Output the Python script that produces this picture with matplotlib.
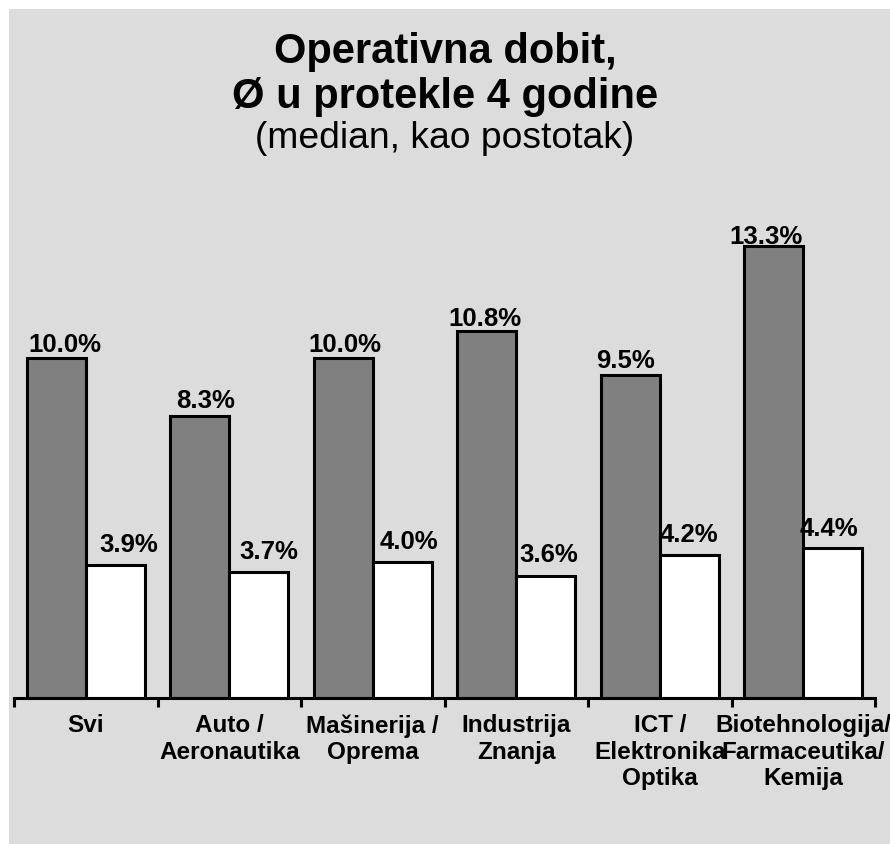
import matplotlib
matplotlib.use('Agg')
import matplotlib.pyplot as plt
from matplotlib.patches import Rectangle
import numpy as np

plt.rcParams['font.family'] = ['Liberation Sans', 'DejaVu Sans']

# podaci
categories = ['Svi', 'Auto /\nAeronautika', 'Mašinerija /\nOprema',
              'Industrija\nZnanja', 'ICT /\nElektronika\nOptika',
              'Biotehnologija/\nFarmaceutika/\nKemija']
gray_vals = [10.0, 8.3, 10.0, 10.8, 9.5, 13.3]
white_vals = [3.9, 3.7, 4.0, 3.6, 4.2, 4.4]

W, H = 890, 845
fig = plt.figure(figsize=(W / 100, H / 100), dpi=100, facecolor='white')
# siva pozadina
fig.patches.append(Rectangle((9 / W, 0), 1, (H - 10) / H, transform=fig.transFigure,
                             facecolor='#dcdcdc', edgecolor='none', zorder=-10))

ax = fig.add_axes([14 / W, (H - 699) / H, 861 / W, 510 / H])
ax.set_facecolor('none')

x = np.arange(len(categories))
bw = 0.41
ax.bar(x - bw / 2, gray_vals, bw, color='#808080', edgecolor='black', linewidth=2.2)
ax.bar(x + bw / 2, white_vals, bw, color='white', edgecolor='black', linewidth=2.2)

# oznake vrijednosti (u originalu malo pomaknute u odnosu na stupce)
lab_step, lab_k, lab_c = 0.976, 0.965, 0.56
for i, v in enumerate(gray_vals):
    ax.text(-0.143 + lab_step * i, v * lab_k + lab_c, f'{v:.1f}%', ha='center',
            va='baseline', fontsize=18.5, fontweight='bold')
for i, v in enumerate(white_vals):
    ax.text(0.300 + lab_step * i, v * lab_k + lab_c, f'{v:.1f}%', ha='center',
            va='baseline', fontsize=18.5, fontweight='bold')

ax.set_xlim(-0.5, len(categories) - 0.5)
ax.set_ylim(0, 15)
for s in ['left', 'right', 'top']:
    ax.spines[s].set_visible(False)
ax.spines['bottom'].set_linewidth(2.2)
ax.set_yticks([])
ax.set_xticks(x)
ax.set_xticklabels(categories, fontsize=17.5, fontweight='bold')
ax.tick_params(axis='x', which='major', length=0, pad=11)
ax.set_xticks(np.arange(-0.5, len(categories)), minor=True)
ax.tick_params(axis='x', which='minor', length=6.5, width=2.2, direction='out')

fig.text(0.5, 1 - 63 / H, 'Operativna dobit,', ha='center', va='baseline',
         fontsize=30, fontweight='bold')
fig.text(0.5, 1 - 108 / H, 'Ø u protekle 4 godine', ha='center', va='baseline',
         fontsize=30, fontweight='bold')
fig.text(0.5, 1 - 148 / H, '(median, kao postotak)', ha='center', va='baseline',
         fontsize=26.8)

fig.savefig('out.png', dpi=100, facecolor=fig.get_facecolor())
